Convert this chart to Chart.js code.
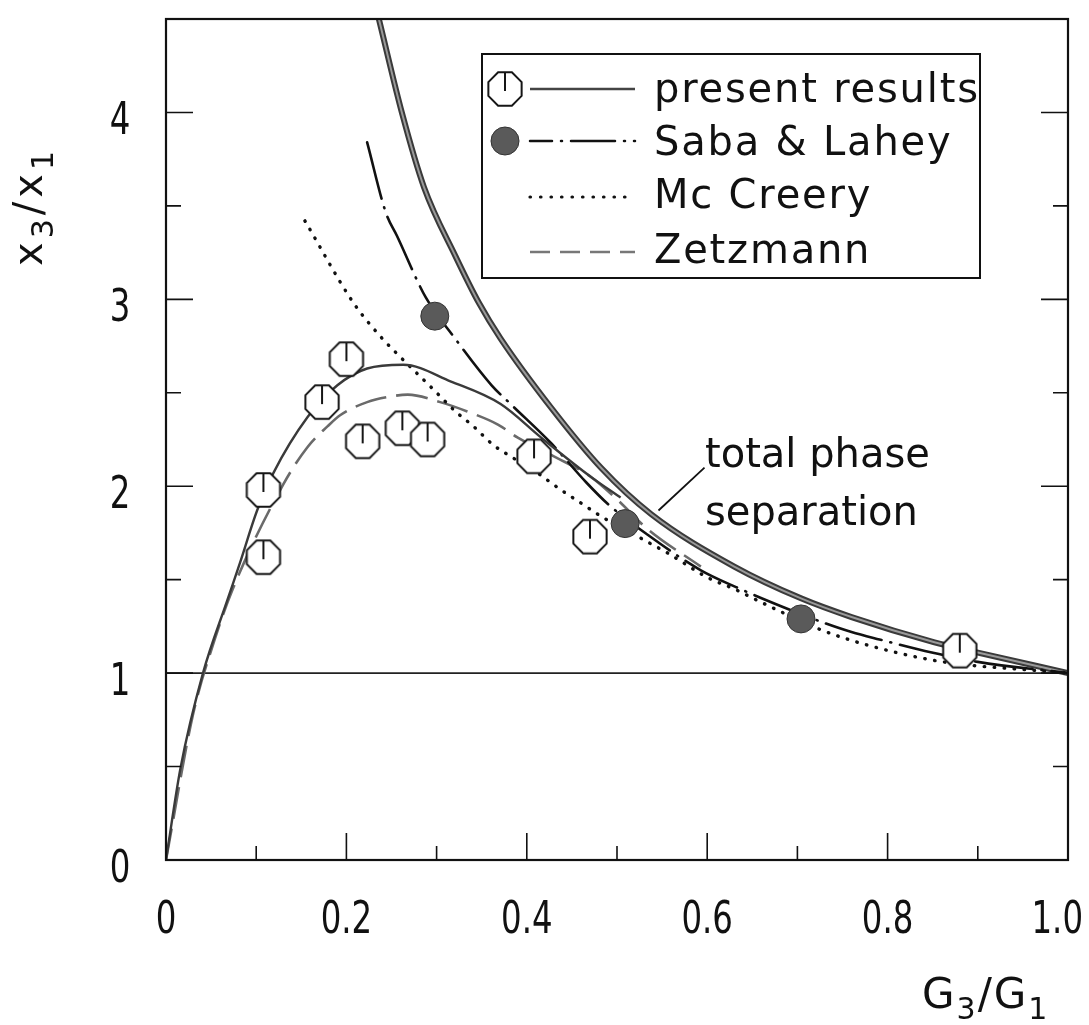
<!DOCTYPE html>
<html>
<head>
<meta charset="utf-8">
<script src="https://cdn.jsdelivr.net/npm/chart.js@4.4.0/dist/chart.umd.min.js"></script>
<style>
  html, body { margin: 0; background: #fff; }
</style>
</head>
<body>
<canvas id="chart" width="1089" height="1025"></canvas>
<script>
const presentMarkX = [0.108, 0.108, 0.173, 0.2, 0.218, 0.262, 0.29, 0.408, 0.47, 0.88];
const presentMarkY = [1.98, 1.62, 2.45, 2.68, 2.24, 2.31, 2.25, 2.16, 1.73, 1.12];
const sabaMarkX = [0.298, 0.509, 0.704];
const sabaMarkY = [2.91, 1.80, 1.29];

// curves
const presentX = [0, 0.016, 0.041, 0.068, 0.082, 0.101, 0.119, 0.157, 0.19, 0.223, 0.263, 0.316, 0.371, 0.416, 0.471, 0.504];
const presentY = [0, 0.49, 1.0, 1.39, 1.59, 1.87, 2.07, 2.37, 2.54, 2.63, 2.65, 2.56, 2.44, 2.26, 2.05, 1.94];
const sabaX = [0.223, 0.244, 0.256, 0.288, 0.319, 0.361, 0.382, 0.427, 0.466, 0.491, 0.534, 0.593, 0.632, 0.686, 0.729, 0.76, 0.791, 0.849, 0.9, 1.0];
const sabaY = [3.84, 3.46, 3.34, 3.01, 2.80, 2.54, 2.44, 2.23, 2.02, 1.90, 1.74, 1.55, 1.46, 1.35, 1.27, 1.22, 1.18, 1.11, 1.06, 1.0];
const mcCreeryX = [0.154, 0.208, 0.238, 0.258, 0.277, 0.296, 0.321, 0.341, 0.363, 0.382, 0.412, 0.438, 0.46, 0.482, 0.527, 0.557, 0.601, 0.63, 0.668, 0.727, 0.774, 0.849, 0.896, 0.949, 1.0];
const mcCreeryY = [3.42, 2.98, 2.80, 2.70, 2.61, 2.52, 2.40, 2.32, 2.22, 2.16, 2.07, 1.98, 1.91, 1.84, 1.72, 1.64, 1.51, 1.45, 1.36, 1.23, 1.155, 1.07, 1.04, 1.02, 1.0];
const zetzmannX = [0, 0.03, 0.054, 0.074, 0.13, 0.157, 0.179, 0.193, 0.223, 0.249, 0.268, 0.304, 0.334, 0.368, 0.39, 0.43, 0.471, 0.5, 0.534, 0.593];
const zetzmannY = [0, 0.78, 1.18, 1.45, 2.01, 2.21, 2.32, 2.38, 2.45, 2.48, 2.49, 2.45, 2.40, 2.33, 2.26, 2.16, 2.05, 1.93, 1.77, 1.57];
const totalSepX = [0.236, 0.262, 0.286, 0.321, 0.347, 0.371, 0.427, 0.482, 0.538, 0.63, 0.704, 0.76, 0.852, 0.9, 1.0];
const totalSepY = [4.5, 3.99, 3.60, 3.23, 2.98, 2.79, 2.42, 2.10, 1.85, 1.57, 1.40, 1.30, 1.165, 1.11, 1.0];
const refX = [0, 1];
const refY = [1, 1];

const legendLabels = ["present results", "Saba & Lahey", "Mc Creery", "Zetzmann"];
const noteLines = ["total phase", "separation"];

const pts = (xs, ys) => xs.map((x, i) => ({ x, y: ys[i] }));
const textFont = "'DejaVu Sans', sans-serif";
const tickFamily = "'DejaVu Sans Condensed', 'DejaVu Sans', sans-serif";

function octagonMarker(r) {
  const c = document.createElement("canvas");
  const s = Math.ceil(r * 2 + 4);
  c.width = s; c.height = s;
  const g = c.getContext("2d");
  const m = s / 2;
  g.beginPath();
  for (let k = 0; k < 8; k++) {
    const a = Math.PI / 8 + k * Math.PI / 4;
    const px = m + r * Math.cos(a), py = m + r * Math.sin(a);
    k ? g.lineTo(px, py) : g.moveTo(px, py);
  }
  g.closePath();
  g.fillStyle = "#fff"; g.fill();
  g.lineWidth = 2; g.strokeStyle = "#161616"; g.stroke();
  g.beginPath();
  g.moveTo(m, m - r * Math.cos(Math.PI / 8));
  g.lineTo(m, m + 2);
  g.stroke();
  return c;
}
const octagon = octagonMarker(18);

function subText(ctx, parts, size, subSize, gap) {
  // parts: [text, isSub]; draws from (0,0) on the baseline
  let x = 0;
  parts.forEach(([t, sub]) => {
    ctx.font = (sub ? subSize : size) + "px " + textFont;
    ctx.fillText(t, x, sub ? subSize * 0.35 : 0);
    x += ctx.measureText(t).width + gap;
  });
}

// narrow lettering like the stencil digits of the original
function narrowText(ctx, text, cx, baseline, squeeze) {
  ctx.save();
  ctx.translate(cx, baseline);
  ctx.scale(squeeze, 1);
  ctx.textAlign = "center";
  ctx.fillText(text, 0, 0);
  ctx.restore();
}

// keep the plot frame where the original has it
const noLabelPadding = s => { s.paddingTop = 0; s.paddingBottom = 0; s.paddingLeft = 0; s.paddingRight = 0; };

const decor = {
  id: "decor",
  afterDraw(chart) {
    const { ctx, chartArea: a, scales: { x, y } } = chart;
    ctx.save();
    ctx.strokeStyle = "#111";
    ctx.fillStyle = "#111";
    ctx.lineWidth = 2.2;
    ctx.strokeRect(a.left, a.top, a.right - a.left, a.bottom - a.top);

    // inward ticks
    ctx.lineWidth = 1.6;
    ctx.beginPath();
    x.ticks.forEach(t => {
      const k = Math.round(t.value * 10);
      if (k <= 0 || k >= 10) return;
      const px = x.getPixelForValue(t.value);
      ctx.moveTo(px, a.bottom);
      ctx.lineTo(px, a.bottom - (k % 2 ? 14 : 27));
    });
    y.ticks.forEach(t => {
      const k = Math.round(t.value * 2);
      if (k <= 0 || k >= 9) return;
      const py = y.getPixelForValue(t.value);
      const len = k % 2 ? 15 : 27;
      ctx.moveTo(a.left, py); ctx.lineTo(a.left + len, py);
      ctx.moveTo(a.right, py); ctx.lineTo(a.right - len, py);
    });
    ctx.stroke();

    // tick labels from the scales' own ticks
    ctx.textBaseline = "alphabetic";
    ctx.font = "45px " + tickFamily;
    x.ticks.forEach(t => {
      if (!t.label) return;
      const w = ctx.measureText(t.label).width * 0.8;
      const px = Math.min(x.getPixelForValue(t.value), 1083 - w / 2);
      narrowText(ctx, t.label, px, 933, 0.8);
    });
    y.ticks.forEach(t => {
      if (!t.label) return;
      narrowText(ctx, t.label, 120, y.getPixelForValue(t.value) + 22, 0.8);
    });

    // axis titles
    ctx.save();
    ctx.translate(922, 1008);
    subText(ctx, [["G"], ["3", true], ["/"], ["G"], ["1", true]], 42, 30, 2);
    ctx.restore();
    ctx.save();
    ctx.translate(42, 266);
    ctx.rotate(-Math.PI / 2);
    subText(ctx, [["x"], ["3", true], ["/"], ["x"], ["1", true]], 40, 30, 4);
    ctx.restore();

    // note with leader line
    ctx.lineWidth = 1.8;
    ctx.beginPath();
    ctx.moveTo(x.getPixelForValue(0.597), y.getPixelForValue(2.10));
    ctx.lineTo(x.getPixelForValue(0.546), y.getPixelForValue(1.87));
    ctx.stroke();
    ctx.font = "40px " + textFont;
    ctx.fillText(noteLines[0], 705, 467);
    ctx.fillText(noteLines[1], 705, 525);

    // legend
    const L = { left: 482, top: 54, right: 980, bottom: 278 };
    ctx.fillStyle = "#fff";
    ctx.fillRect(L.left, L.top, L.right - L.left, L.bottom - L.top);
    ctx.lineWidth = 2;
    ctx.strokeRect(L.left, L.top, L.right - L.left, L.bottom - L.top);
    const rowsY = [89, 141, 197, 252];
    const samples = [
      { color: "#444", width: 2.5, dash: [], cap: "butt" },
      { color: "#111", width: 2.5, dash: [22, 9, 1, 9, 44, 9, 1, 9], cap: "round" },
      { color: "#111", width: 3.2, dash: [0.5, 10], cap: "round" },
      { color: "#777", width: 2.5, dash: [20, 10], cap: "butt" }
    ];
    samples.forEach((s, i) => {
      ctx.save();
      ctx.strokeStyle = s.color; ctx.lineWidth = s.width;
      ctx.setLineDash(s.dash); ctx.lineCap = s.cap;
      ctx.beginPath();
      ctx.moveTo(530, rowsY[i]); ctx.lineTo(635, rowsY[i]);
      ctx.stroke();
      ctx.restore();
    });
    ctx.drawImage(octagon, 505 - octagon.width / 2, rowsY[0] - octagon.height / 2);
    ctx.beginPath();
    ctx.arc(505, rowsY[1], 14, 0, Math.PI * 2);
    ctx.fillStyle = "#5a5a5a"; ctx.fill();
    ctx.strokeStyle = "#333"; ctx.lineWidth = 1; ctx.stroke();

    ctx.fillStyle = "#111";
    ctx.font = "40px " + textFont;
    ctx.letterSpacing = "1.8px";
    const baselines = [102, 155, 208, 263];
    legendLabels.forEach((t, i) => ctx.fillText(t, 654, baselines[i]));
    ctx.restore();
  }
};

const line = (xs, ys, color, width, dash, cap) => ({
  data: pts(xs, ys), showLine: true, pointRadius: 0,
  borderColor: color, borderWidth: width, borderDash: dash, borderCapStyle: cap,
  tension: 0.4, cubicInterpolationMode: "monotone", fill: false
});

new Chart(document.getElementById("chart"), {
  type: "scatter",
  data: {
    datasets: [
      { data: pts(presentMarkX, presentMarkY), pointStyle: octagon, pointRadius: 18 },
      { data: pts(sabaMarkX, sabaMarkY), pointStyle: "circle", pointRadius: 14,
        backgroundColor: "#5a5a5a", borderColor: "#333", borderWidth: 1 },
      line(presentX, presentY, "#3a3a3a", 2.4, [], "butt"),
      line(sabaX, sabaY, "#111", 2.6, [58, 9, 1, 9], "round"),
      line(mcCreeryX, mcCreeryY, "#111", 3.4, [0.5, 9.5], "round"),
      line(zetzmannX, zetzmannY, "#6a6a6a", 2.6, [32, 10], "butt"),
      line(totalSepX, totalSepY, "#9a9a9a", 2, [], "butt"),
      line(totalSepX, totalSepY, "#3a3a3a", 6, [], "butt"),
      { data: pts(refX, refY), showLine: true, pointRadius: 0, borderColor: "#222", borderWidth: 1.6 }
    ]
  },
  options: {
    responsive: false,
    devicePixelRatio: 1,
    animation: false,
    events: [],
    layout: { padding: { top: 10, right: 21, left: 0, bottom: 0 } },
    plugins: { legend: { display: false }, tooltip: { enabled: false } },
    scales: {
      x: {
        type: "linear", min: 0, max: 1,
        grid: { display: false, drawTicks: false }, border: { display: false },
        afterFit: s => { s.height = 165; noLabelPadding(s); },
        ticks: {
          display: false, stepSize: 0.1, autoSkip: false,
          callback: v => { const k = Math.round(v * 10); if (k % 2) return ""; return k === 0 ? "0" : (k / 10).toFixed(1); }
        }
      },
      y: {
        type: "linear", min: 0, max: 4.5,
        grid: { display: false, drawTicks: false }, border: { display: false },
        afterFit: s => { s.width = 166; noLabelPadding(s); },
        ticks: {
          display: false, stepSize: 0.5, autoSkip: false,
          callback: v => (Math.abs(v - Math.round(v)) < 1e-6 && v <= 4) ? String(Math.round(v)) : ""
        }
      }
    }
  },
  plugins: [decor]
});
</script>
</body>
</html>
